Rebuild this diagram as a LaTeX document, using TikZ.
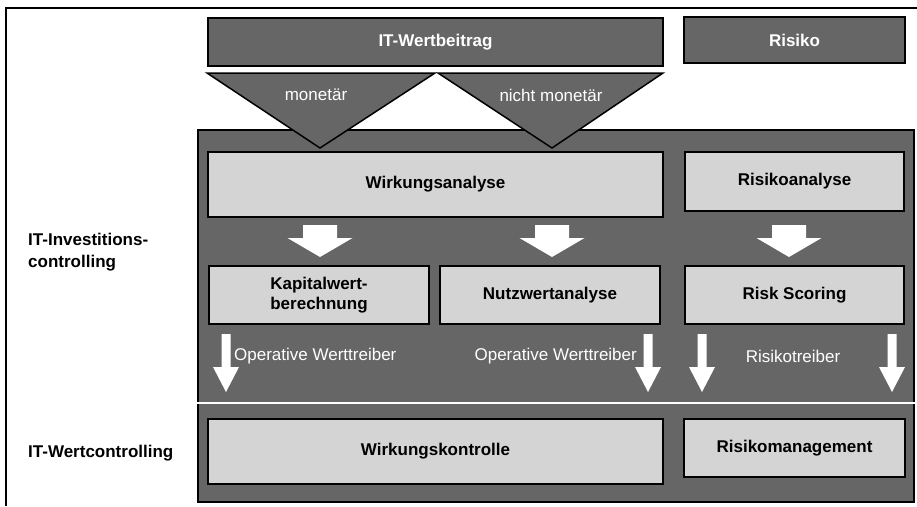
\documentclass[tikz,border=0pt]{standalone}
\usepackage{fontspec}
\setmainfont{Liberation Sans}
\definecolor{dk}{RGB}{102,102,102}
\definecolor{lt}{RGB}{212,212,212}
\tikzset{
  txt/.style={font=\fontsize{17}{20}\selectfont},
  btxt/.style={font=\fontsize{17}{20}\selectfont\bfseries},
  darkbox/.style={btxt, draw=black, line width=1.5pt, fill=dk, text=white, inner sep=0pt},
  lightbox/.style={btxt, draw=black, line width=1.5pt, fill=lt, text=black, inner sep=0pt, align=center},
  tri/.style={draw=black, line width=1.5pt, fill=dk, line join=miter},
  blockarrow/.style={fill=white, draw=none},
}
\newcommand\blockarr[2]{% name, center x
  \path[blockarrow] (#2-17,225) -- (#2+17,225) -- (#2+17,238) -- (#2+32.5,238) -- (#2,257) -- (#2-32.5,238) -- (#2-17,238) -- cycle;}
\newcommand\thinarr[1]{% center x
  \path[blockarrow] (#1-4.5,334) -- (#1+4.5,334) -- (#1+4.5,367) -- (#1+13,367) -- (#1,392) -- (#1-13,367) -- (#1-4.5,367) -- cycle;}
\begin{document}
\begin{tikzpicture}[x=1pt,y=-1pt]
\useasboundingbox (0,0) rectangle (917,506);
\fill[white] (0,0) rectangle (917,506);
% outer frame (cropped)
\draw[line width=1.5pt] (6,506) -- (6,8) -- (917,8);
% big panel
\node[darkbox, minimum width=716, minimum height=372] (panel) at (556,316) {};
% top boxes
\node[darkbox, minimum width=455, minimum height=48] (wb) at (435.5,42) {IT-Wertbeitrag};
\node[darkbox, minimum width=221, minimum height=46] (ri) at (794.5,40) {Risiko};
% triangles
\coordinate (t1a) at (207,73); \coordinate (t1b) at (435,73); \coordinate (t1c) at (320,148);
\coordinate (t2a) at (438,73); \coordinate (t2b) at (663,73); \coordinate (t2c) at (552,148);
\draw[tri] (t1a) -- (t1b) -- (t1c) -- cycle;
\draw[tri] (t2a) -- (t2b) -- (t2c) -- cycle;
\node[txt, text=white] (mon) at (316,95) {monetär};
\node[txt, text=white] (nmon) at (551,95) {nicht monetär};
% analysis boxes
\node[lightbox, minimum width=455, minimum height=65] (wa) at (435.5,184.5) {Wirkungsanalyse};
\node[lightbox, minimum width=219, minimum height=59] (ra) at (794.5,181.5) {Risikoanalyse};
\node[lightbox, minimum width=220, minimum height=58] (kw) at (319,295) {Kapitalwert-\\berechnung};
\node[lightbox, minimum width=220, minimum height=58] (nw) at (550,295) {Nutzwertanalyse};
\node[lightbox, minimum width=219, minimum height=58] (rs) at (794.5,295) {Risk Scoring};
% block arrows
\blockarr{a1}{320}
\blockarr{a2}{552}
\blockarr{a3}{789}
% thin arrows
\thinarr{226}
\thinarr{648}
\thinarr{702}
\thinarr{892}
\node[txt, text=white, anchor=west, inner sep=0pt] (ow1) at (234,356) {Operative Werttreiber};
\node[txt, text=white, anchor=east, inner sep=0pt] (ow2) at (637,356) {Operative Werttreiber};
\node[txt, text=white, inner sep=0pt] (rt) at (793,356) {Risikotreiber};
% separator
\coordinate (sepL) at (197,403); \coordinate (sepR) at (915,403);
\draw[white, line width=2.5pt] (sepL) -- (sepR);
% control boxes
\node[lightbox, minimum width=455, minimum height=65] (wk) at (435.5,451.5) {Wirkungskontrolle};
\node[lightbox, minimum width=221, minimum height=58] (rm) at (794.5,448) {Risikomanagement};
% left labels
\node[btxt, anchor=west, align=left, inner sep=0pt] (ic) at (28,252) {IT-Investitions-\\[2pt]controlling};
\node[btxt, anchor=west, inner sep=0pt] (wc) at (28,453) {IT-Wertcontrolling};
\end{tikzpicture}
\end{document}
